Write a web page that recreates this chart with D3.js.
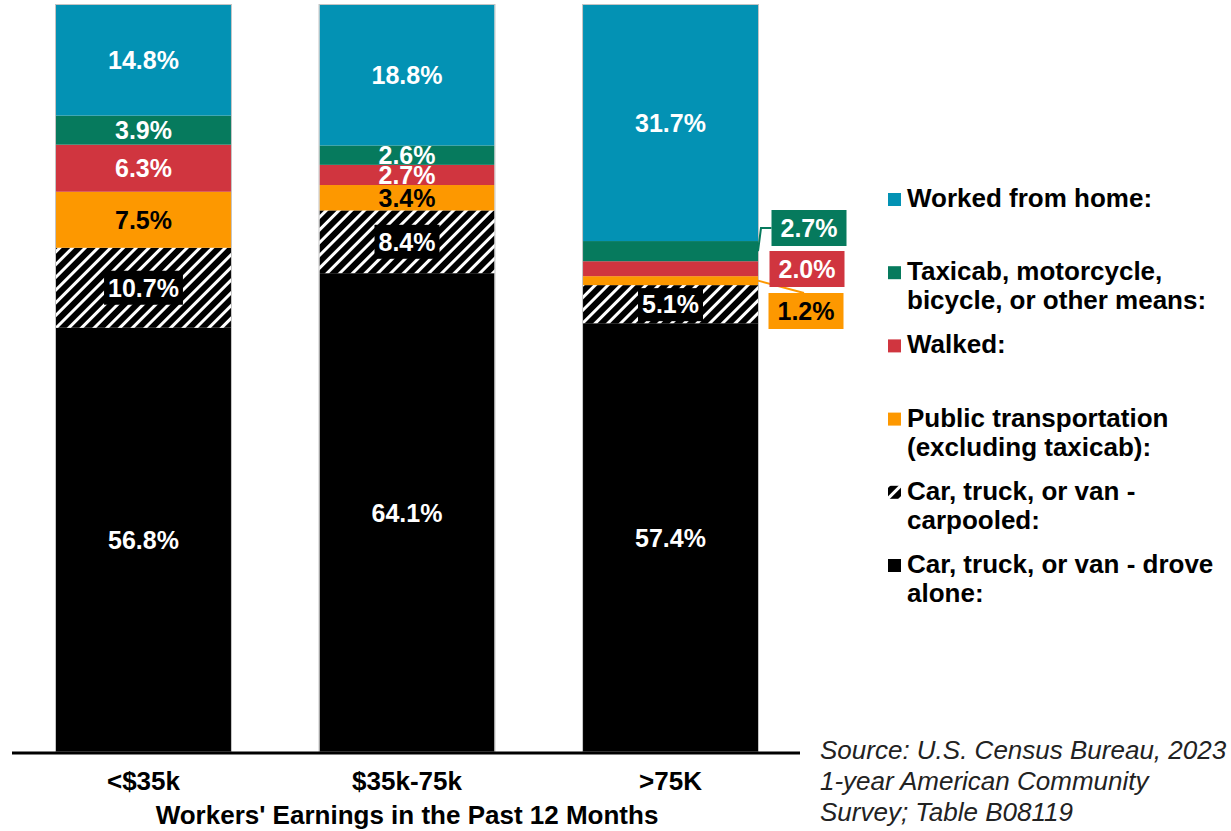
<!DOCTYPE html>
<html>
<head>
<meta charset="utf-8">
<script src="https://cdn.jsdelivr.net/npm/d3@7"></script>
<style>
  body { margin: 0; background: #fff; }
  text { font-family: "Liberation Sans", Arial, sans-serif; }
</style>
</head>
<body>
<div id="chart"></div>
<script>
let categories = ["<$35k", "$35k-75k", ">75K"];
let modes = [
  "Car, truck, or van - drove alone:",
  "Car, truck, or van - carpooled:",
  "Public transportation (excluding taxicab):",
  "Walked:",
  "Taxicab, motorcycle, bicycle, or other means:",
  "Worked from home:"
];
let droveAlone   = [56.8, 64.1, 57.4];
let carpooled    = [10.7, 8.4, 5.1];
let publicTrans  = [7.5, 3.4, 1.2];
let walked       = [6.3, 2.7, 2.0];
let otherMeans   = [3.9, 2.6, 2.7];
let workedHome   = [14.8, 18.8, 31.7];

let legendLines = [
  ["Worked from home:"],
  ["Taxicab, motorcycle,", "bicycle, or other means:"],
  ["Walked:"],
  ["Public transportation", "(excluding taxicab):"],
  ["Car, truck, or van -", "carpooled:"],
  ["Car, truck, or van - drove", "alone:"]
];
let xTitle = "Workers' Earnings in the Past 12 Months";
let sourceLines = ["Source: U.S. Census Bureau, 2023", "1-year American Community", "Survey; Table B08119"];

let series = [droveAlone, carpooled, publicTrans, walked, otherMeans, workedHome];
let colors = ["#000000", "url(#hatch)", "#fd9800", "#d0353f", "#067a5d", "#0392b4"];
let labelColors = ["#fff", "#fff", "#000", "#fff", "#fff", "#fff"];

let dim = { width: 1231, height: 831, baseline: 752, top: 5 };

let x = d3.scaleBand()
    .domain(categories)
    .range([12, 802])
    .paddingInner(0.336)
    .paddingOuter(0.167);

let y = d3.scaleLinear()
    .domain([0, 100])
    .range([dim.baseline, dim.top]);

let svg = d3.select("#chart").append("svg")
    .attr("width", dim.width)
    .attr("height", dim.height);

let defs = svg.append("defs");
let pat = defs.append("pattern")
    .attr("id", "hatch")
    .attr("patternUnits", "userSpaceOnUse")
    .attr("width", 9)
    .attr("height", 9)
    .attr("patternTransform", "rotate(45)");
pat.append("rect").attr("width", 9).attr("height", 9).attr("fill", "#000");
pat.append("rect").attr("x", 0).attr("width", 3).attr("height", 9).attr("fill", "#fff");

// build stacked data
let table = categories.map((c, i) => {
  let row = { cat: c };
  series.forEach((s, k) => row["s" + k] = s[i]);
  return row;
});
let stack = d3.stack().keys(series.map((s, k) => "s" + k));
let stacked = stack(table);

let layers = svg.selectAll("g.layer").data(stacked).enter()
  .append("g")
    .attr("class", "layer")
    .attr("fill", (d, k) => colors[k]);

layers.selectAll("rect").data(d => d).enter()
  .append("rect")
    .attr("x", d => x(d.data.cat))
    .attr("width", x.bandwidth())
    .attr("y", d => y(d[1]))
    .attr("height", d => y(d[0]) - y(d[1]));

// thin outline round each bar
svg.append("g").selectAll("rect").data(categories).enter()
  .append("rect")
    .attr("x", d => x(d) - 0.5)
    .attr("y", y(100) - 0.5)
    .attr("width", x.bandwidth() + 1)
    .attr("height", y(0) - y(100) + 0.5)
    .attr("fill", "none")
    .attr("stroke", "#c4c4c4")
    .attr("stroke-width", 1);

// baseline
svg.append("line")
    .attr("x1", x.range()[0])
    .attr("x2", x.range()[1] - 2)
    .attr("y1", dim.baseline + 1)
    .attr("y2", dim.baseline + 1)
    .attr("stroke", "#000")
    .attr("stroke-width", 3);

// value labels
let fmt = v => v.toFixed(1) + "%";
let calloutLayers = [2, 3, 4]; // small segments of the last bar are called out
let labels = svg.append("g");

stacked.forEach((layer, k) => {
  layer.forEach((d, i) => {
    if (i === 2 && calloutLayers.includes(k)) return;
    let cx = x(d.data.cat) + x.bandwidth() / 2;
    let cy = (y(d[0]) + y(d[1])) / 2;
    let g = labels.append("g");
    let t = g.append("text")
        .attr("x", cx)
        .attr("y", cy)
        .attr("dy", "0.36em")
        .attr("text-anchor", "middle")
        .attr("font-size", 25)
        .attr("font-weight", "bold")
        .attr("fill", labelColors[k])
        .text(fmt(d[1] - d[0]));
    if (k === 1) {
      let bb = t.node().getBBox();
      let top = Math.max(bb.y - 3, y(d[1]) + 3);
      let bot = Math.min(bb.y + bb.height + 3, y(d[0]) - 1);
      g.insert("rect", "text")
          .attr("x", bb.x - 4)
          .attr("y", top)
          .attr("width", bb.width + 8)
          .attr("height", bot - top)
          .attr("fill", "#000");
    }
  });
});

// callouts for the >75K bar
let boxY = { 4: 228, 3: 269, 2: 311 };
let boxX = { 4: 809, 3: 807, 2: 806 };
let bx = x(categories[2]) + x.bandwidth();
calloutLayers.forEach(k => {
  let d = stacked[k][2];
  let cy = (y(d[0]) + y(d[1])) / 2;
  let g = labels.append("g");
  let bw = 75, bh = 36;
  let pts;
  if (k === 4) pts = [[bx, cy], [bx + 3, boxY[k]], [boxX[k] - bw / 2, boxY[k]]];
  else if (k === 2) pts = [[bx, cy], [boxX[k] - 2, boxY[k] - bh / 2]];
  else pts = null;
  if (pts) {
    g.append("path")
        .attr("d", d3.line()(pts))
        .attr("fill", "none")
        .attr("stroke", colors[k])
        .attr("stroke-width", 2);
  }
  g.append("rect")
      .attr("x", boxX[k] - bw / 2)
      .attr("y", boxY[k] - bh / 2)
      .attr("width", bw)
      .attr("height", bh)
      .attr("fill", colors[k]);
  g.append("text")
      .attr("x", boxX[k])
      .attr("y", boxY[k])
      .attr("dy", "0.36em")
      .attr("text-anchor", "middle")
      .attr("font-size", 25)
      .attr("font-weight", "bold")
      .attr("fill", labelColors[k])
      .text(fmt(d[1] - d[0]));
});

// x axis labels
svg.append("g").selectAll("text").data(categories).enter()
  .append("text")
    .attr("x", d => x(d) + x.bandwidth() / 2)
    .attr("y", 790)
    .attr("text-anchor", "middle")
    .attr("font-size", 26)
    .attr("font-weight", "bold")
    .text(d => d);

svg.append("text")
    .attr("x", x(categories[1]) + x.bandwidth() / 2)
    .attr("y", 824)
    .attr("text-anchor", "middle")
    .attr("font-size", 26)
    .attr("font-weight", "bold")
    .text(xTitle);

// source note
svg.append("g").selectAll("text").data(sourceLines).enter()
  .append("text")
    .attr("x", 820)
    .attr("y", (d, i) => 759 + i * 31)
    .attr("font-size", 26)
    .attr("font-style", "italic")
    .attr("fill", "#222")
    .text(d => d);

// legend, top entry is the top of the stack
let legendColors = colors.slice().reverse();
let legend = svg.append("g").attr("transform", "translate(888,0)");
legendLines.forEach((lines, i) => {
  let baseY = 207 + i * 73.2;
  legend.append("rect")
      .attr("x", 0)
      .attr("y", baseY - 14)
      .attr("width", 13)
      .attr("height", 13)
      .attr("fill", legendColors[i]);
  lines.forEach((ln, j) => {
    legend.append("text")
        .attr("x", 19)
        .attr("y", baseY + j * 29)
        .attr("font-size", 26)
        .attr("font-weight", "bold")
        .text(ln);
  });
});
</script>
</body>
</html>
